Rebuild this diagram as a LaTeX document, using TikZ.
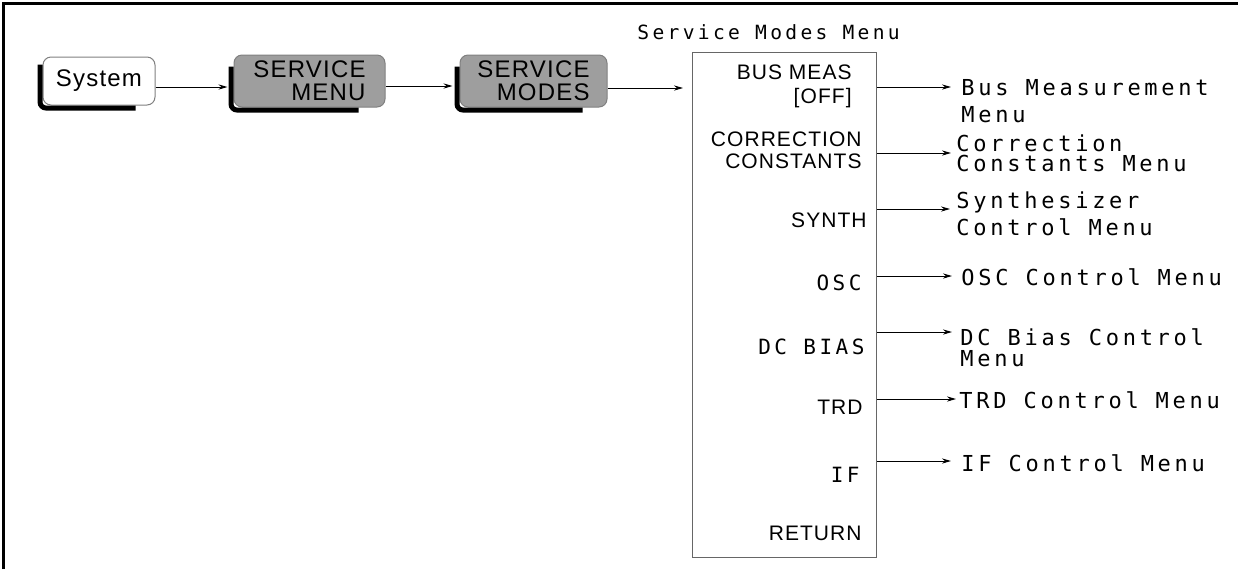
\documentclass[tikz,border=0pt]{standalone}
\usepackage{fontspec}
\setmainfont{Liberation Sans}
\newfontfamily\keyfont[LetterSpace=5]{Liberation Sans}
\newfontfamily\plotfont[LetterSpace=17]{DejaVu Sans Mono}
\usetikzlibrary{arrows.meta, positioning}

\begin{document}
\begin{tikzpicture}[
  x=0.5pt, y=-0.5pt,
  key/.style={draw=gray, line width=0.5pt, rounded corners=4pt, fill=white, align=right, inner sep=0pt,
    font=\keyfont\fontsize{12}{11.5}\selectfont},
  greykey/.style={key, fill=black!38, minimum height=26pt},
  keyshadow/.style={line width=2.5pt, rounded corners=3pt},
  menubox/.style={draw=gray!80!black, line width=0.5pt, anchor=north west, minimum width=92pt, minimum height=252.5pt, inner sep=0pt},
  item/.style={anchor=east, align=right, inner sep=0pt, font=\keyfont\fontsize{10.5}{12}\selectfont},
  plotitem/.style={item, font=\plotfont\fontsize{10.5}{12}\selectfont},
  sublabel/.style={anchor=west, align=left, inner sep=0pt, font=\plotfont\fontsize{11}{12.4}\selectfont},
  arrow/.style={-{Stealth[length=4.5pt, width=2.6pt]}, line width=0.5pt}
]
\useasboundingbox (0,0) rectangle (1238,569);
\draw[line width=1.5pt] (3,569) -- (3,3) -- (1238,3);

% front panel keys
\node[key, minimum width=56pt, minimum height=24pt] (sys) at (99,81) {System};
\node[greykey, minimum width=75.5pt] (svcmenu) at (309.5,81) {SERVICE\\MENU};
\node[greykey, minimum width=73.5pt] (svcmodes) at (533.5,81) {SERVICE\\MODES};
\draw[keyshadow] ([shift={(-2.5,8)}]sys.north west) |- ([shift={(-20,2.5)}]sys.south east);
\draw[keyshadow] ([shift={(-2.5,12)}]svcmenu.north west) |- ([shift={(-27,2.5)}]svcmenu.south east);
\draw[keyshadow] ([shift={(-2.5,12)}]svcmodes.north west) |- ([shift={(-25,2.5)}]svcmodes.south east);

% service modes menu
\node[menubox] (smm) at (692,52) {};
\node[sublabel, font=\plotfont\fontsize{9.8}{11}\selectfont] (smmtitle) at (637,32) {Service Modes Menu};

\draw[arrow] ([shift={(0,6)}]sys.east) -- ([shift={(-6,6)}]svcmenu.west);
\draw[arrow] ([shift={(0,5)}]svcmenu.east) -- ([shift={(-7,5)}]svcmodes.west);
\coordinate (modesout) at ([shift={(0,7)}]svcmodes.east);
\draw[arrow, shorten >=4.5pt] (modesout) -- (modesout -| smm.west);

\node[item] (busmeas) at (852,86) {BUS MEAS\\{[OFF]}};
\node[item] (corr) at (862,150) {CORRECTION\\[-1pt]CONSTANTS};
\node[item] (synth) at (867,220) {SYNTH};
\node[plotitem] (osc) at (862,283) {OSC};
\node[plotitem] (dcbias) at (865,347) {DC BIAS};
\node[item] (trd) at (863,407) {TRD};
\node[plotitem] (iffreq) at (860,475) {IF};
\node[item] (ret) at (862,533) {RETURN};

% sub menus
\node[sublabel] (busmenu) at (961,101.5) {Bus Measurement\\[1.1pt]Menu};
\node[sublabel] (corrmenu) at (956,153) {Correction\\[-2.4pt]Constants Menu};
\node[sublabel] (synthmenu) at (956,213.5) {Synthesizer\\[1.1pt]Control Menu};
\node[sublabel] (oscmenu) at (961,277) {OSC Control Menu};
\node[sublabel] (dcmenu) at (960,347.5) {DC Bias Control\\[-1.9pt]Menu};
\node[sublabel] (trdmenu) at (959,400) {TRD Control Menu};
\node[sublabel] (ifmenu) at (961,463) {IF Control Menu};

\foreach \lbl/\dy/\gap in {busmenu/-14.5/10, corrmenu/0/5, synthmenu/-4.5/6, oscmenu/-1/9,
    dcmenu/-15.5/8, trdmenu/-1/3, ifmenu/-2/10} {
  \coordinate (\lbl-tip) at ([shift={(-\gap,\dy)}]\lbl.west);
  \draw[arrow] (smm.east |- \lbl-tip) -- (\lbl-tip);
}
\end{tikzpicture}
\end{document}
